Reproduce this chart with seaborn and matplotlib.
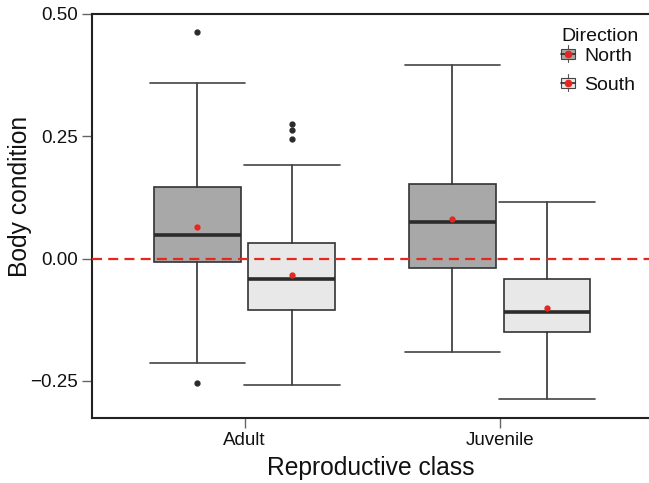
import matplotlib
matplotlib.use("Agg")
import matplotlib.pyplot as plt
import seaborn as sns
from matplotlib.patches import Rectangle
from matplotlib.lines import Line2D
from matplotlib.legend_handler import HandlerBase

# Summary statistics per reproductive class and direction
classes = ["Adult", "Juvenile"]
directions = ["North", "South"]

q1 = {"North": [-0.007, -0.020], "South": [-0.105, -0.150]}
median = {"North": [0.048, 0.074], "South": [-0.042, -0.110]}
q3 = {"North": [0.147, 0.152], "South": [0.031, -0.042]}
whisker_low = {"North": [-0.214, -0.192], "South": [-0.258, -0.288]}
whisker_high = {"North": [0.358, 0.395], "South": [0.191, 0.116]}
mean = {"North": [0.065, 0.081], "South": [-0.033, -0.102]}
outliers = {
    "North": [[0.463, -0.255], []],
    "South": [[0.275, 0.263, 0.245], []],
}

fills = {"North": "#a8a8a8", "South": "#e8e8e8"}
red = "#e8251f"
ink = "#2b2b2b"


class BoxGlyph(HandlerBase):
    """Legend key drawn as a miniature box with whisker, median and mean dot."""

    def __init__(self, fill):
        super().__init__()
        self.fill = fill

    def create_artists(self, legend, orig_handle, xdescent, ydescent,
                       width, height, fontsize, trans):
        cx = width / 2 - xdescent
        cy = height / 2 - ydescent
        bw, bh = width, height * 0.8
        whisk = Line2D([cx, cx], [cy - height * 0.7, cy + height * 0.7],
                       color="#555555", linewidth=0.8, transform=trans)
        box = Rectangle((cx - bw / 2, cy - bh / 2), bw, bh,
                        facecolor=self.fill, edgecolor="#444444",
                        linewidth=0.8, transform=trans)
        med = Line2D([cx - bw / 2, cx + bw / 2], [cy, cy], color=ink,
                     linewidth=1.2, transform=trans)
        dot = Line2D([cx], [cy], marker="o", markersize=4.5, color=red,
                     linestyle="none", transform=trans)
        return [whisk, box, med, dot]


sns.set_theme(style="ticks")
plt.rcParams["font.family"] = ["Liberation Sans", "DejaVu Sans"]

fig = plt.figure(figsize=(6.49, 4.83), dpi=100)
ax = fig.add_axes([92 / 649, 65 / 483, 1 - 92 / 649, (418 - 14) / 483])

offsets = {"North": -0.186, "South": 0.186}
box_w = 0.341
for d in directions:
    stats = []
    for i, c in enumerate(classes):
        stats.append(dict(
            label=c, q1=q1[d][i], med=median[d][i], q3=q3[d][i],
            whislo=whisker_low[d][i], whishi=whisker_high[d][i],
            mean=mean[d][i], fliers=outliers[d][i],
        ))
    ax.bxp(
        stats,
        positions=[i + offsets[d] for i in range(len(classes))],
        widths=box_w,
        patch_artist=True,
        showmeans=True,
        manage_ticks=False,
        capwidths=0.373,
        boxprops=dict(facecolor=fills[d], edgecolor="#333333", linewidth=1.2),
        medianprops=dict(color=ink, linewidth=2.6),
        whiskerprops=dict(color="#333333", linewidth=1.2),
        capprops=dict(color="#444444", linewidth=1.2),
        meanprops=dict(marker="o", markerfacecolor=red, markeredgecolor=red,
                       markersize=3.5),
        flierprops=dict(marker="o", markerfacecolor=ink, markeredgecolor=ink,
                        markersize=3.5),
    )

ax.axhline(0, color=red, linestyle=(0, (4.5, 2.8)), linewidth=1.6, zorder=5)

ax.set_xlim(-0.598, 1.586)
ax.set_ylim(-0.326, 0.50)
ax.set_yticks([-0.25, 0.0, 0.25, 0.50])
ax.set_yticklabels(["\u22120.25", "0.00", "0.25", "0.50"])
ax.set_xticks(range(len(classes)))
ax.set_xticklabels(classes)
ax.set_xlabel("Reproductive class", fontsize=17.7, color="#111111", labelpad=5)
ax.set_ylabel("Body condition", fontsize=17.7, color="#111111")
ax.yaxis.set_label_coords(-0.1077, 0.548)
ax.tick_params(axis="both", labelsize=13.5, labelcolor="#111111", length=7,
               width=1.0, direction="out", color="#666666", pad=3)

for s in ["left", "bottom", "top"]:
    ax.spines[s].set_visible(True)
    ax.spines[s].set_color("#222222")
    ax.spines[s].set_linewidth(1.5)
ax.spines["right"].set_visible(False)

# Legend: heading, then one miniature box per direction
ax.text((561 - 92) / 557, (418 - 34.5) / 404, "Direction", transform=ax.transAxes,
        ha="left", va="center_baseline", fontsize=14, color="#111111")
keys = [Rectangle((0, 0), 1, 1) for _ in directions]
leg = ax.legend(
    keys, directions, loc="upper left",
    bbox_to_anchor=((547 - 92) / 557, (418 - 34) / 404), frameon=False,
    fontsize=14, handlelength=0.72, handleheight=0.6,
    handletextpad=0.5, labelspacing=0.61, borderaxespad=0.3,
    handler_map={k: BoxGlyph(fills[d]) for k, d in zip(keys, directions)},
)
for t in leg.get_texts():
    t.set_color("#111111")

fig.savefig("out.png", dpi=100)
